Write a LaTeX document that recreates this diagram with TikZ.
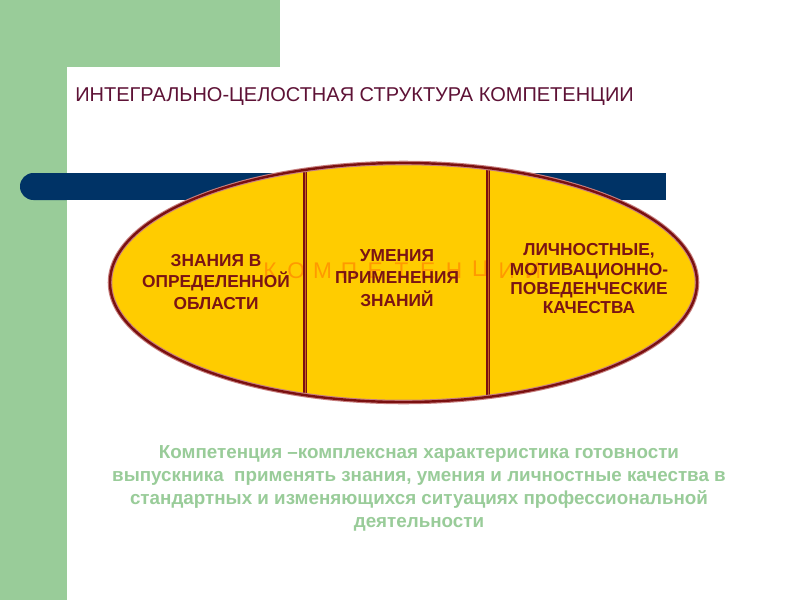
\documentclass[tikz,border=0pt]{standalone}
\usepackage{fontspec}
\setmainfont{Liberation Sans}
\usetikzlibrary{positioning}
\definecolor{slidegreen}{HTML}{99CC99}
\definecolor{barblue}{HTML}{003366}
\definecolor{ovalyellow}{HTML}{FFCC00}
\definecolor{rimred}{HTML}{7A1010}
\definecolor{rimpink}{HTML}{C88080}
\definecolor{textred}{HTML}{7A1414}
\definecolor{titlered}{HTML}{5E1236}
\definecolor{ghostorange}{HTML}{FF9900}
\definecolor{divbrown}{HTML}{C8641E}

\begin{document}
\begin{tikzpicture}[
    x=0.75pt, y=-0.75pt,
    title/.style={anchor=west, inner sep=0pt, text=titlered, font=\fontsize{15}{18}\selectfont},
    part/.style={align=center, inner sep=0pt, text=textred, font=\bfseries\fontsize{13}{16.2}\selectfont},
    ghost/.style={inner sep=0pt, text=ghostorange, font=\fontsize{17}{18}\selectfont},
    note/.style={align=center, inner sep=0pt, text=slidegreen, font=\bfseries\fontsize{14.1}{17.3}\selectfont},
    divider/.style={draw=rimred, line width=2.4pt}
]
\useasboundingbox (0,0) rectangle (800,600);

% Background
\begin{scope}
\clip (0,0) rectangle (800,600);
\fill[slidegreen] (0,0) rectangle (280,67);
\fill[slidegreen] (0,0) rectangle (67,600);
\fill[white, rounded corners=15pt] (67,67) rectangle (860,660);
\end{scope}

% Title
\node[title] (head) at (75,97) {ИНТЕГРАЛЬНО-ЦЕЛОСТНАЯ СТРУКТУРА КОМПЕТЕНЦИИ};

% Bar behind the oval
\fill[barblue, rounded corners=10pt] (20,173) rectangle (80,200);
\fill[barblue] (50,173) rectangle (666,200);

% Oval
\coordinate (mid) at (403.5,282.5);
\fill[ovalyellow] (mid) ellipse (293.5 and 119.5);

\foreach \ch [count=\i from 0] in {К,О,М,П,Е,Т,Е,Н,Ц,И,И}
  \node[ghost] (g\i) at (270+26.3*\i,271) {\ch};

\begin{scope}
\clip (mid) ellipse (293.5 and 119.5);
\draw[divider] (305,150) -- (305,420);
\draw[divider] (488,150) -- (488,420);
\draw[divbrown, line width=0.7pt] (305.8,150) -- (305.8,420);
\draw[divbrown, line width=0.7pt] (488.8,150) -- (488.8,420);
\end{scope}
\draw[rimpink, line width=3.4pt] (mid) ellipse (293.5 and 119.5);
\draw[rimred, line width=1.8pt] (mid) ellipse (293.5 and 119.5);

% Parts
\node[part] (know) at (216,282) {ЗНАНИЯ В\\ОПРЕДЕЛЕННОЙ\\ОБЛАСТИ};
\node[part, font=\bfseries\fontsize{13}{16.9}\selectfont] (skill) at (397,278) {УМЕНИЯ\\ПРИМЕНЕНИЯ\\ЗНАНИЙ};
\node[part, font=\bfseries\fontsize{13}{14.5}\selectfont] (trait) at (589,279) {ЛИЧНОСТНЫЕ,\\МОТИВАЦИОННО-\\ПОВЕДЕНЧЕСКИЕ\\КАЧЕСТВА};

% Definition
\node[note] (def) at (419,488) {Компетенция –комплексная характеристика готовности\\выпускника\ \ применять знания, умения и личностные качества в\\стандартных и изменяющихся ситуациях профессиональной\\деятельности};

\end{tikzpicture}
\end{document}
